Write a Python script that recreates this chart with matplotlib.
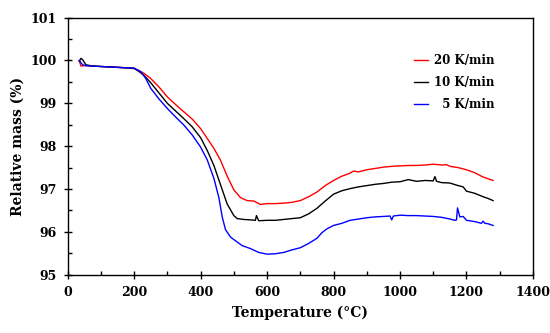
import matplotlib
matplotlib.use('Agg')
import matplotlib.pyplot as plt
from matplotlib.ticker import MultipleLocator

plt.rcParams['font.family'] = 'DejaVu Serif'
plt.rcParams['font.weight'] = 'bold'

# 20 K/min
t_20 = [35, 40, 50, 75, 100, 125, 150, 175, 200,
        215, 230, 250, 275, 300, 325, 350, 375, 400,
        420, 440, 460, 480, 500, 520, 540, 560, 580, 600,
        625, 650, 675, 700, 725, 750, 775, 800,
        825, 850, 860, 875, 900, 925, 950, 975, 1000,
        1025, 1050, 1075, 1100, 1125, 1140, 1150, 1175, 1200,
        1225, 1250, 1265, 1280]
m_20 = [100.0, 99.87, 99.88, 99.87, 99.86, 99.85, 99.84, 99.83, 99.81,
        99.76, 99.70, 99.58, 99.38, 99.15, 98.97, 98.80, 98.63, 98.41,
        98.18, 97.95, 97.67, 97.30, 96.98, 96.80, 96.73, 96.72, 96.64, 96.66,
        96.66, 96.67, 96.69, 96.73, 96.82, 96.93, 97.08, 97.20,
        97.30, 97.37, 97.42, 97.40, 97.45, 97.48, 97.51, 97.53, 97.54,
        97.55, 97.55, 97.56, 97.58, 97.56, 97.57, 97.53, 97.50, 97.45,
        97.38, 97.28, 97.24, 97.20]

# 10 K/min
t_10 = [35, 40, 45, 55, 75, 100, 125, 150, 175, 200,
        215, 230, 250, 275, 300, 325, 350, 375, 400,
        420, 440, 460, 480, 500, 510, 530, 550, 565, 568, 575,
        600, 625, 650, 675, 700, 725, 750, 775, 800,
        825, 850, 875, 900, 925, 950, 975, 1000,
        1025, 1050, 1075, 1100, 1105, 1110, 1125, 1150, 1175, 1190, 1200,
        1225, 1250, 1265, 1280]
m_10 = [99.98, 100.05, 100.02, 99.9, 99.87, 99.86, 99.85, 99.84, 99.83, 99.82,
        99.74, 99.65, 99.48, 99.24, 99.0, 98.82, 98.64, 98.45, 98.20,
        97.90, 97.55, 97.10, 96.65, 96.38, 96.31, 96.29, 96.28, 96.27, 96.38, 96.26,
        96.27, 96.27, 96.29, 96.31, 96.33, 96.42, 96.55, 96.72, 96.88,
        96.96, 97.01, 97.05, 97.08, 97.11, 97.13, 97.16, 97.17,
        97.22, 97.18, 97.20, 97.19, 97.29, 97.18, 97.15, 97.14, 97.08, 97.05, 96.95,
        96.90, 96.82, 96.78, 96.73]

# 5 K/min
t_5 = [35, 45, 55, 75, 100, 125, 150, 175, 200,
       220, 235, 250, 275, 300, 325, 350, 375, 400,
       420, 440, 455, 465, 475, 490, 500, 525, 550, 575, 600,
       625, 650, 675, 700, 725, 750, 765, 780, 800,
       825, 850, 875, 900, 925, 950, 970, 975, 980, 1000,
       1025, 1050, 1075, 1100, 1125, 1150, 1165, 1170, 1173, 1180, 1190, 1200,
       1225, 1245, 1250, 1255, 1265, 1280]
m_5 = [100.0, 99.9, 99.88, 99.87, 99.86, 99.85, 99.84, 99.83, 99.82,
       99.74, 99.58, 99.35, 99.10, 98.88, 98.68, 98.49, 98.26, 97.98,
       97.68, 97.25, 96.80, 96.35, 96.05, 95.88, 95.82, 95.68, 95.61, 95.52, 95.48,
       95.49, 95.52, 95.58, 95.63, 95.73, 95.85, 95.98, 96.07, 96.15,
       96.20, 96.27, 96.30, 96.33, 96.35, 96.36, 96.37, 96.28, 96.37, 96.39,
       96.38, 96.38, 96.37, 96.36, 96.34, 96.30, 96.27, 96.28, 96.56, 96.35, 96.36, 96.27,
       96.24, 96.20, 96.25, 96.20, 96.19, 96.15]

fig = plt.figure(figsize=(5.5, 3.33), dpi=100)
ax = fig.add_axes([0.123, 0.175, 0.846, 0.772])

ax.plot(t_20, m_20, color='#ff0000', lw=1.0, label='20 K/min')
ax.plot(t_10, m_10, color='black', lw=1.0, label='10 K/min')
ax.plot(t_5, m_5, color='#0000ff', lw=1.0, label='  5 K/min')

ax.set_xlim(0, 1400)
ax.set_ylim(95, 101)
ax.xaxis.set_major_locator(MultipleLocator(200))
ax.xaxis.set_minor_locator(MultipleLocator(100))
ax.yaxis.set_major_locator(MultipleLocator(1))
ax.yaxis.set_minor_locator(MultipleLocator(0.5))
ax.tick_params(which='major', direction='inout', length=6, width=1, labelsize=9, pad=5)
ax.tick_params(which='minor', direction='in', length=3, width=1)
for s in ax.spines.values():
    s.set_linewidth(1.0)

ax.set_xlabel('Temperature (°C)', fontsize=10, fontweight='bold', labelpad=5)
ax.set_ylabel('Relative mass (%)', fontsize=10, fontweight='bold', labelpad=4)

ax.legend(loc='upper right', frameon=False, fontsize=8.5, handlelength=1.2,
          handletextpad=0.5, labelspacing=0.75, bbox_to_anchor=(0.941, 0.9))

fig.savefig('out.png', dpi=100)
